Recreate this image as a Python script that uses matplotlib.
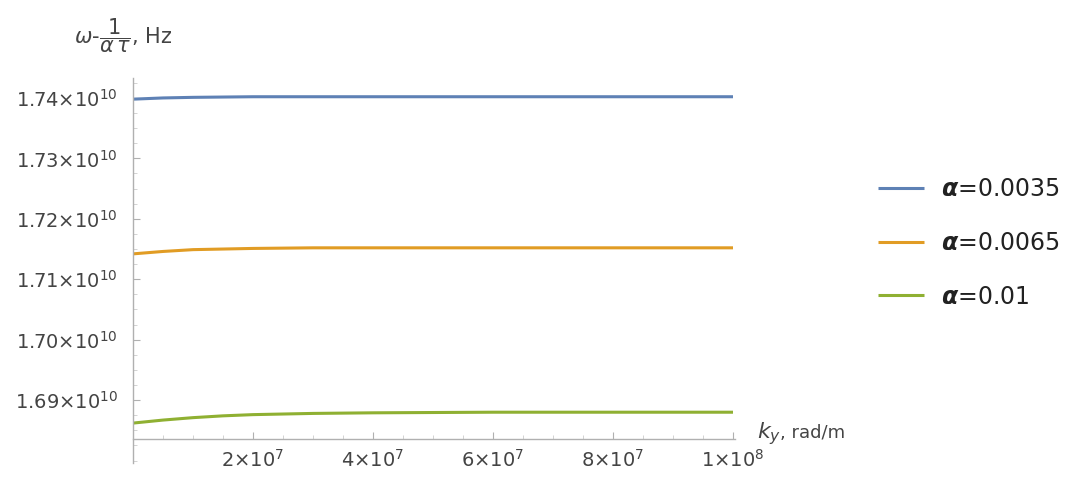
import numpy as np
import matplotlib
matplotlib.use('Agg')
import matplotlib.pyplot as plt
from matplotlib.ticker import FixedLocator, FixedFormatter, MultipleLocator
import matplotlib.transforms as mtransforms

plt.rcParams['font.family'] = ['DejaVu Sans']
plt.rcParams['mathtext.fontset'] = 'dejavusans'

# k_y, rad/m
ky = [0, 0.5e7, 1e7, 1.5e7, 2e7, 3e7, 4e7, 6e7, 8e7, 1e8]
# omega - 1/(alpha tau), Hz
w_00035 = [1.7398e10, 1.7400e10, 1.7401e10, 1.74015e10, 1.7402e10, 1.7402e10, 1.7402e10, 1.7402e10, 1.7402e10, 1.7402e10]
w_00065 = [1.7142e10, 1.7146e10, 1.7149e10, 1.7150e10, 1.7151e10, 1.7152e10, 1.7152e10, 1.7152e10, 1.7152e10, 1.7152e10]
w_001 = [1.6862e10, 1.6867e10, 1.6871e10, 1.6874e10, 1.6876e10, 1.6878e10, 1.6879e10, 1.6880e10, 1.6880e10, 1.6880e10]
labels = [r'$\mathbfit{\alpha}$=0.0035', r'$\mathbfit{\alpha}$=0.0065', r'$\mathbfit{\alpha}$=0.01']
colors = ['#5E81B5', '#E19C24', '#8FB032']

yticks = [1.69e10, 1.70e10, 1.71e10, 1.72e10, 1.73e10, 1.74e10]
ytick_labels = [r'1.69$\times$10$^{10}$', r'1.70$\times$10$^{10}$', r'1.71$\times$10$^{10}$',
                r'1.72$\times$10$^{10}$', r'1.73$\times$10$^{10}$', r'1.74$\times$10$^{10}$']
xticks = [2e7, 4e7, 6e7, 8e7, 1e8]
xtick_labels = [r'2$\times$10$^{7}$', r'4$\times$10$^{7}$', r'6$\times$10$^{7}$',
                r'8$\times$10$^{7}$', r'1$\times$10$^{8}$']

x_origin = 1.6835e10

fig = plt.figure(figsize=(10.79, 4.86), dpi=100)
ax = fig.add_axes([0.1233, 0.047, 0.5577, 0.7925])

lines = []
for ys, c, lab in zip([w_00035, w_00065, w_001], colors, labels):
    l, = ax.plot(ky, ys, color=c, lw=2.2, label=lab, solid_capstyle='butt')
    lines.append(l)

ax.set_xlim(0, 1.003e8)
ax.set_ylim(1.67957e10, 1.7433e10)

axis_col = '#b0b0b0'
text_col = '#444444'
for s in ['top', 'right']:
    ax.spines[s].set_visible(False)
ax.spines['bottom'].set_position(('data', x_origin))
ax.spines['left'].set_color(axis_col)
ax.spines['bottom'].set_color(axis_col)
ax.spines['left'].set_linewidth(1.0)
ax.spines['bottom'].set_linewidth(1.0)

ax.yaxis.set_major_locator(FixedLocator(yticks))
ax.yaxis.set_major_formatter(FixedFormatter(ytick_labels))
ax.yaxis.set_minor_locator(MultipleLocator(0.0025e10))
ax.xaxis.set_major_locator(FixedLocator(xticks))
ax.xaxis.set_major_formatter(FixedFormatter(xtick_labels))
ax.xaxis.set_minor_locator(MultipleLocator(0.5e7))
ax.tick_params(axis='both', which='major', direction='in', length=5, color=axis_col,
               labelsize=14, labelcolor=text_col)
ax.tick_params(axis='both', which='minor', direction='in', length=3, color='#cccccc')
ax.tick_params(axis='x', pad=7)
ax.tick_params(axis='y', pad=11)

ax.text(-0.098, 1.11, r'$\omega$-$\dfrac{1}{\alpha\,\tau}$, Hz', transform=ax.transAxes,
        fontsize=15, color=text_col, ha='left', va='center')
tr = mtransforms.blended_transform_factory(ax.transAxes, ax.transData)
ax.text(1.037, x_origin + 0.0002e10, r'$k_y$', transform=tr, fontsize=16, color=text_col,
        ha='left', va='baseline')
ax.text(1.075, x_origin + 0.0002e10, ', rad/m', transform=tr, fontsize=13, color=text_col,
        ha='left', va='baseline')

fig.legend(handles=lines, loc='center left', bbox_to_anchor=(0.794, 0.50),
           frameon=False, fontsize=17, handlelength=1.95, handletextpad=0.7,
           labelspacing=1.26, labelcolor='#222222')

fig.savefig('out.png', dpi=100)
